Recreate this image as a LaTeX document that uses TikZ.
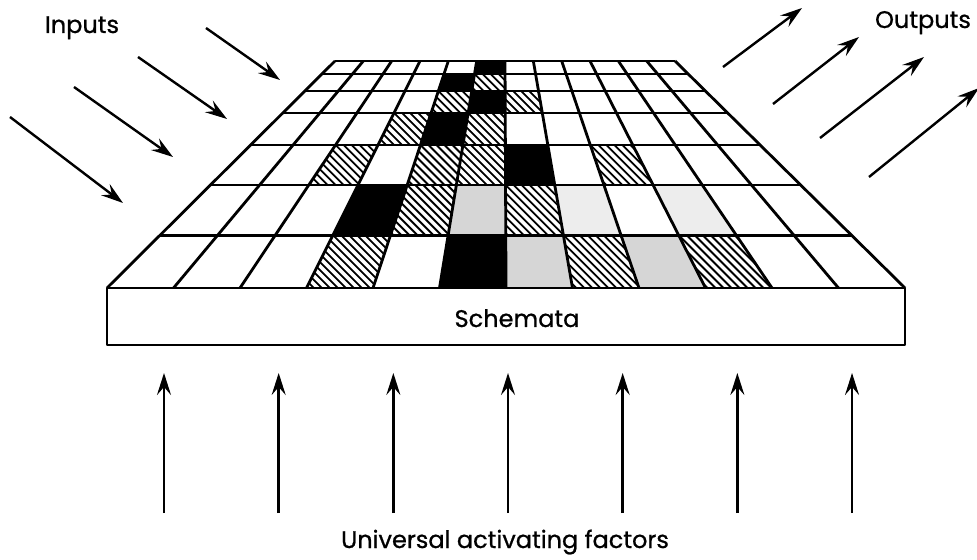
\documentclass[tikz,border=0pt]{standalone}
\usepackage{fontspec}
\setmainfont{Poppins}
\newfontfamily\tagfont{Poppins}[FakeBold=0.8]
\usetikzlibrary{arrows.meta,calc}

\tikzset{
  grid line/.style={line width=1.4pt, line join=round},
  hatch line/.style={line width=0.9pt},
  flow/.style={line width=1.2pt, -{Stealth[length=11pt,width=7pt,inset=4pt]}},
  lbl/.style={font=\tagfont\fontsize{12}{14}\selectfont, anchor=base},
  declare function={gx(\f,\s)=(335-228*\s)*(1-\f)+(675+230*\s)*\f; gy(\s)=61+227*\s;}
}

\begin{document}
\begin{tikzpicture}[x=0.5pt,y=-0.5pt]
\useasboundingbox (0,0) rectangle (977,560);

% grid points, row depths by hand
\foreach \j/\s in {0/0,1/0.057,2/0.132,3/0.229,4/0.370,5/0.546,6/0.767,7/1}
  \foreach \i in {0,...,12}
    \coordinate (g-\i-\j) at ({gx(\i/12,\s)},{gy(\s)});

% slab under the grid
\draw[grid line, fill=white] (g-0-7) rectangle ($(g-12-7)+(0,57)$);

% black cells
\foreach \c/\r [evaluate=\c as \cL using int(\c-1), evaluate=\r as \rT using int(\r-1)] in {6/1,5/2,6/3,5/4,7/5,4/6,6/7}
  \fill (g-\cL-\rT) -- (g-\c-\rT) -- (g-\c-\r) -- (g-\cL-\r) -- cycle;

% dotted cells
\foreach \c/\r/\g [evaluate=\c as \cL using int(\c-1), evaluate=\r as \rT using int(\r-1)] in {6/6/16,7/7/16,9/7/16,8/6/7,10/6/7}
  \fill[black!\g] (g-\cL-\rT) -- (g-\c-\rT) -- (g-\c-\r) -- (g-\cL-\r) -- cycle;

% hatched cells
\foreach \c/\r [evaluate=\c as \cL using int(\c-1), evaluate=\r as \rT using int(\r-1)] in {6/2,5/3,7/3,4/4,6/4,3/5,5/5,6/5,9/5,5/6,7/6,4/7,8/7,10/7} {
  \begin{scope}
    \clip (g-\cL-\rT) -- (g-\c-\rT) -- (g-\c-\r) -- (g-\cL-\r) -- cycle;
    \foreach \k in {-72,-64,...,88}
      \draw[hatch line] ($(g-\cL-\rT)+(\k-10,-10)$) -- ++(90,90);
  \end{scope}
}

% grid lines
\foreach \j in {0,...,7}
  \draw[grid line] (g-0-\j) -- (g-12-\j);
\foreach \i in {0,...,12}
  \draw[grid line] (g-\i-0) -- (g-\i-7);

% inputs and outputs
\foreach \xa/\ya/\xb/\yb in {206/28/280/80, 138/57/227/119, 74/87/173/157, 10/117/123/203}
  \draw[flow] (\xa,\ya) -- (\xb,\yb);
\foreach \xa/\ya/\xb/\yb in {723/67/802/8, 773/104/859/37, 820/138/924/57, 869/177/979/88}
  \draw[flow] (\xa,\ya) -- (\xb,\yb);

% activating arrows
\foreach \k in {0,...,6}
  \draw[flow] ({164+114.67*\k},513) -- ++(0,-140);

\node[lbl] (inputs) at (82,33) {Inputs};
\node[lbl] (outputs) at (923,28) {Outputs};
\node[lbl] (schemata) at (517,327) {Schemata};
\node[lbl] (factors) at (505,548) {Universal activating factors};
\end{tikzpicture}
\end{document}
